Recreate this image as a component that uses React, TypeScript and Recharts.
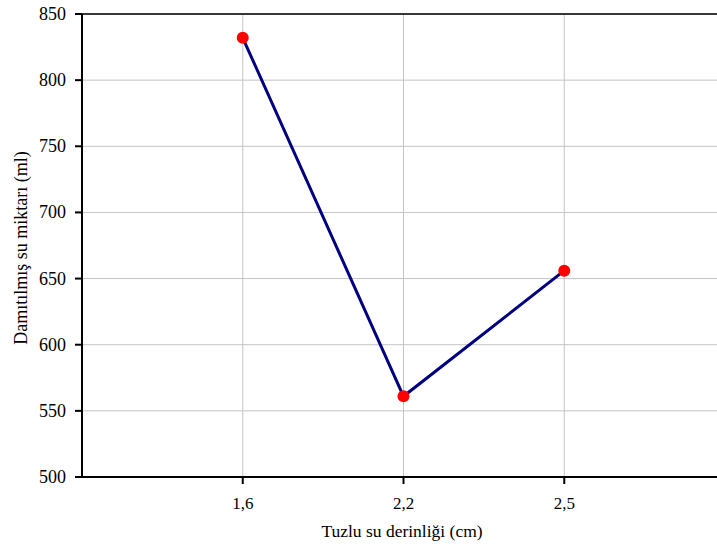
import React from 'react';
import { CartesianGrid, Label, Line, LineChart, ReferenceLine, XAxis, YAxis } from 'recharts';

// Tuzlu su derinliği kategorileri ve damıtılmış su miktarı
const depthLabels = ['1,6', '2,2', '2,5'];
const distilledMl = [832, 561, 656];
const yTicks = [500, 550, 600, 650, 700, 750, 800, 850];

const data = depthLabels.map((label, i) => ({ idx: i + 1, label, value: distilledMl[i] }));

const FONT = 'Liberation Serif, serif';

const XTick = ({ x, y, payload }: any) => (
	<text x={x} y={y + 19} textAnchor="middle" fontSize={17} fontFamily={FONT} fill="#000">
		{depthLabels[payload.value - 1] ?? ''}
	</text>
);

const YTick = ({ x, y, payload }: any) => (
	<text x={x - 1} y={y + 6} textAnchor="end" fontSize={18} fontFamily={FONT} fill="#000">
		{payload.value}
	</text>
);

export default function App() {
	return (
		<div
			style={{
				position: 'absolute',
				left: 0,
				top: 0,
				width: 717,
				height: 549,
				overflow: 'hidden',
				background: '#fff',
				fontFamily: FONT,
			}}
		>
			<LineChart width={740} height={549} data={data} margin={{ top: 14, right: 15, left: 0, bottom: 0 }}>
				<CartesianGrid stroke="#c4c4c4" strokeWidth={1} vertical horizontal />
				<XAxis
					dataKey="idx"
					type="number"
					domain={[0, 4]}
					ticks={[1, 2, 3]}
					height={72}
					stroke="#000"
					strokeWidth={2}
					tickSize={7}
					tickMargin={6}
					tick={<XTick />}
				>
					<Label
						content={() => (
							<text x={402} y={537} textAnchor="middle" fontSize={17.5} fontFamily={FONT} fill="#000">
								Tuzlu su derinliği (cm)
							</text>
						)}
					/>
				</XAxis>
				<YAxis
					domain={[500, 850]}
					ticks={yTicks}
					width={82}
					stroke="#000"
					strokeWidth={2}
					tickSize={7}
					tickMargin={8}
					tick={<YTick />}
					allowDataOverflow
				>
					<Label
						content={() => (
							<text
								x={0}
								y={0}
								transform="translate(27 248) rotate(-90)"
								textAnchor="middle"
								fontSize={18}
								fontFamily={FONT}
								fill="#000"
							>
								Damıtılmış su miktarı (ml)
							</text>
						)}
					/>
				</YAxis>
				<ReferenceLine y={850} stroke="#000" strokeWidth={1.5} />
				<Line
					dataKey="value"
					stroke="#000080"
					strokeWidth={3}
					dot={{ r: 6, fill: '#ff0000', stroke: '#ff0000', strokeWidth: 0 }}
					activeDot={false}
					isAnimationActive={false}
				/>
			</LineChart>
		</div>
	);
}
